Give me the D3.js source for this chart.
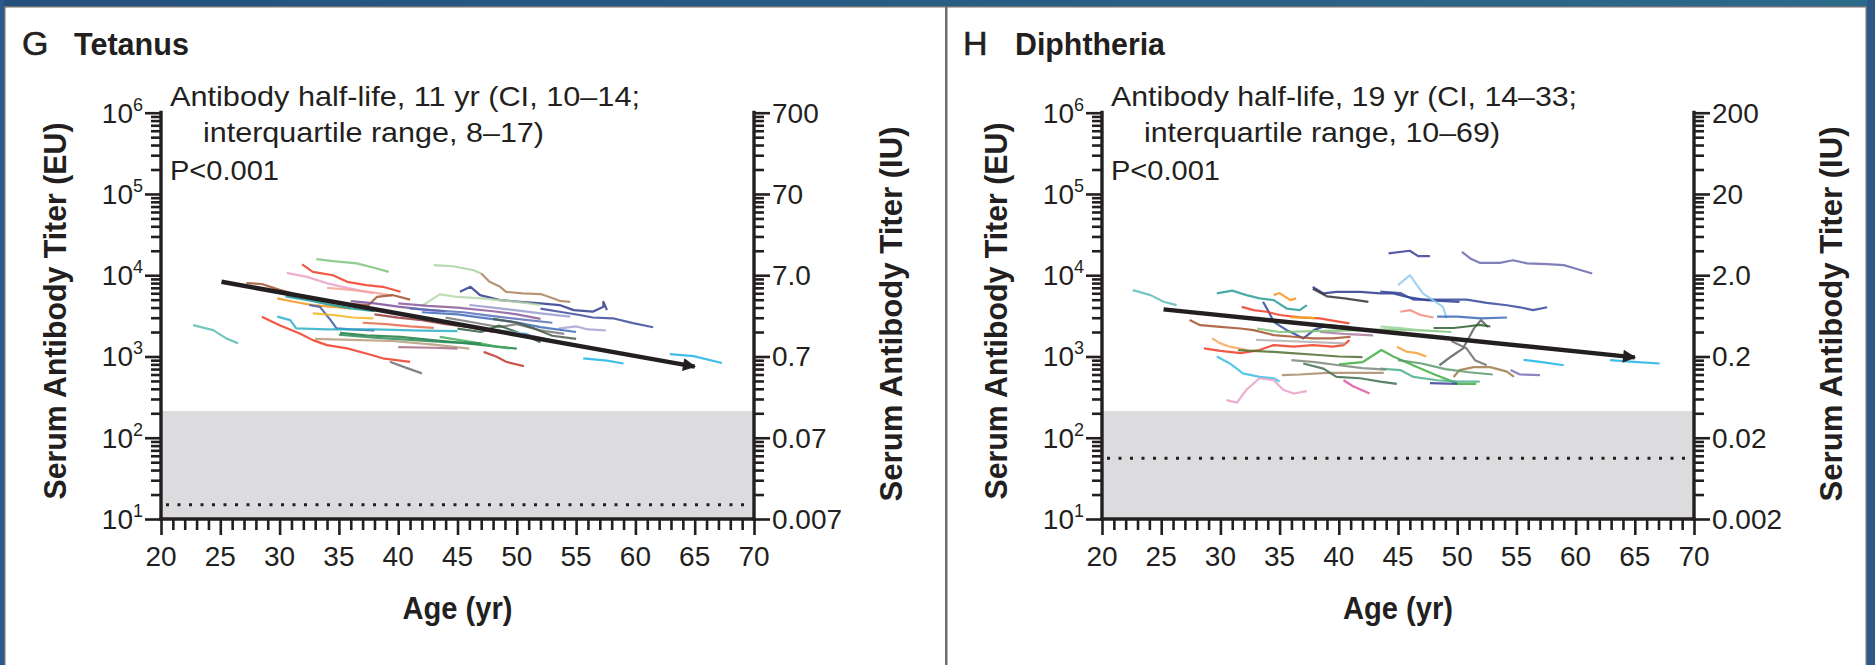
<!DOCTYPE html>
<html>
<head>
<meta charset="utf-8">
<script src="https://cdn.jsdelivr.net/npm/d3@7"></script>
<style>
  body { margin: 0; background: #fff; }
  svg text { font-family: "Liberation Sans", Arial, sans-serif; fill: #231f20; }
</style>
</head>
<body>
<svg id="chart" width="1875" height="665"></svg>
<script>
/* ---- data (age in yr, titer in EU) ---- */
const xTicks = [20, 25, 30, 35, 40, 45, 50, 55, 60, 65, 70];
const decades = [10, 100, 1e3, 1e4, 1e5, 1e6];

const tetanusIU = ["0.007", "0.07", "0.7", "7.0", "70", "700"];
const diphtheriaIU = ["0.002", "0.02", "0.2", "2.0", "20", "200"];

const tetanusNotes = ["Antibody half-life, 11 yr (CI, 10\u201314;", "interquartile range, 8\u201317)", "P<0.001"];
const diphtheriaNotes = ["Antibody half-life, 19 yr (CI, 14\u201333;", "interquartile range, 10\u201369)", "P<0.001"];

const tetanusFit = [[25.1, 8300], [65, 750]];
const diphtheriaFit = [[25.2, 3800], [65, 975]];

const protectiveEU = 213;
const tetanusDotted = 15;
const diphtheriaDotted = 56;

const tetanusSeries = [
  [[22.7, 2430], [24.4, 2110], [25.5, 1670], [26.5, 1450]],
  [[33.1, 15800], [34.5, 14900], [36.5, 14000], [38.2, 12100], [39.2, 11000]],
  [[31.9, 13600], [32.8, 11000], [34.5, 10000], [35.7, 8300], [37.3, 7550], [38.7, 7200], [40.2, 6250]],
  [[30.6, 10700], [32.3, 9550], [34.0, 7950], [35.9, 6900], [37.9, 6000]],
  [[34, 7000], [36, 6600], [38, 6100], [39.5, 5600]],
  [[27.2, 8000], [28.5, 7800], [30, 6600], [32, 5500], [34, 4900], [36, 4400], [37.5, 4300], [38.2, 5400], [39.5, 5700], [41, 5000]],
  [[29.8, 5190], [31.2, 4710], [32.8, 4290], [34.5, 4080], [36, 3900]],
  [[30.5, 5500], [32.5, 4900], [34, 4400], [36, 3900], [38, 3600]],
  [[32.5, 4300], [33.4, 4080], [34.3, 2800], [34.8, 2220], [36, 2150], [38, 2100]],
  [[32.8, 3390], [34.5, 3240], [36.2, 3020], [37.9, 2950]],
  [[28.5, 3090], [30, 2430], [31.7, 1920], [32.8, 1590], [34, 1380], [35.7, 1260], [37.3, 1090], [38.7, 950], [41, 860]],
  [[29.8, 3090], [30.9, 2800], [31.4, 2220], [34, 2150], [38, 2150], [42, 2080], [45, 2050]],
  [[39.3, 860], [40.4, 750], [42.0, 620]],
  [[35.1, 1950], [37.3, 1820], [40.2, 1740], [42.9, 1590], [45.8, 1450], [48.3, 1320], [50, 1250]],
  [[33, 1650], [36, 1600], [39.5, 1550], [43, 1400], [46, 1250]],
  [[40, 1300], [43, 1280], [45, 1250]],
  [[43.0, 13300], [44.6, 12900], [46.3, 11600], [47.0, 10500]],
  [[47.0, 10500], [47.7, 8300], [48.6, 7200], [49.1, 6250], [50.5, 5970], [52.0, 5860], [53.1, 5180], [53.6, 4840], [54.5, 4710]],
  [[45.2, 6250], [46.1, 7200], [46.9, 5690], [48.6, 4940], [50.3, 4710], [52, 4500], [53.6, 4290], [54.8, 3720], [56.4, 3560], [57.3, 4100], [57.3, 4710], [57.6, 3720]],
  [[52.0, 3890], [53.6, 3550], [55.3, 3240], [56.4, 3020], [58.1, 2950], [59.8, 2570], [61.5, 2290]],
  [[53.5, 2200], [55, 2350], [56, 2150], [57.5, 2100]],
  [[55.6, 950], [57.6, 890], [59.0, 820]],
  [[62.9, 1070], [64.9, 1010], [67.3, 830]],
  [[47.2, 1140], [48.3, 990], [49.1, 860], [50.6, 760]],
  [[43.5, 1740], [45.2, 1590], [46.9, 1450], [48.3, 1320], [49.4, 1260]],
  [[42, 4200], [43.5, 5800], [45, 5400], [47, 5200], [50, 4700], [52, 4300]],
  [[40, 4500], [42.5, 4200], [45, 4000], [48, 3600], [50, 3300], [52, 2900]],
  [[42, 3500], [45, 3300], [47, 3000], [49.5, 2700], [52, 2300], [55, 2000]],
  [[44, 3000], [46.5, 2600], [48.5, 2300], [50, 2500], [52, 2100], [54, 1900]],
  [[45, 2200], [47, 2000], [48.5, 2400], [50, 2000], [52, 1500]],
  [[44, 2600], [46, 2400], [48, 2100], [51, 1900]],
  [[35, 1850], [38, 1700], [41, 1600], [44, 1500], [47, 1450]],
  [[38, 3300], [40, 3000], [42, 2800], [44, 2500], [46, 2300], [48, 2000]],
  [[36, 4800], [38, 4500], [40, 4100], [42, 3800], [44, 3600]],
  [[41, 3900], [43, 3700], [45.5, 3500], [47.5, 3200], [50, 2900], [53, 2600]],
  [[46, 4300], [48, 4000], [50, 3700], [52, 3400], [54.5, 3100]],
  [[48, 2900], [50, 2600], [51.5, 2200], [53, 1800], [55, 1650]],
  [[37, 2600], [39, 2500], [41, 2350], [43, 2250]],
  [[50.5, 1900], [52, 1700], [53.5, 1500], [55, 1400]]
];
const tetanusColors = ["#5dbcb8", "#7cc47a", "#ee3b24", "#e8a0c8", "#f5a59a", "#a0522d", "#f7941d", "#1a9a9a",
  "#3c5aa8", "#f2b418", "#ee3b24", "#2bb0c8", "#6d6e71", "#1e7b45", "#b59a78", "#a86a86",
  "#a6d49f", "#a8825a", "#2e3a8c", "#3c4a9c", "#a8a4d4", "#1fb3e5", "#1fb3e5", "#c0392b",
  "#3fae5a", "#b5d8a8", "#8a5a9a", "#3c6ab8", "#7a7a7a", "#2f5f3f", "#8fcbee", "#2e8b57", "#9e3a3a",
  "#7b4f9c", "#5a6fb8", "#9a9ad0", "#4a5a4a", "#e36a4a", "#6a7ab0"];

const diphtheriaSeries = [
  [[22.6, 6560], [24.1, 5690], [25.2, 4710], [26.3, 4290]],
  [[29.7, 5970], [31.0, 6460], [32.2, 5690], [33.3, 5190], [34.5, 4940], [35.6, 3890], [36.7, 3720], [37.3, 4290]],
  [[34.5, 5690], [35.0, 6030], [35.9, 4940], [36.4, 5190]],
  [[33.6, 4710], [34.0, 3720], [34.5, 2670], [35.6, 2110], [36.2, 1920], [37.0, 1670], [37.9, 2110], [39.0, 2430], [41, 2300]],
  [[31.8, 4080], [32.8, 3720], [33.9, 3550], [35.0, 3240], [36.7, 3030], [38.4, 2940], [40.1, 2670], [40.9, 2550]],
  [[35.9, 3020], [37.3, 3020], [38, 2950]],
  [[37.8, 7200], [38.7, 5970], [39.8, 6250], [41.8, 6250], [43.5, 5970], [44.6, 5970], [45.7, 5430], [47.4, 4940], [50.2, 4710]],
  [[43.5, 6300], [45.2, 6030], [46.3, 5010], [49.1, 5010], [50.8, 5010], [52.5, 4570], [54.2, 4270], [55.3, 4030], [56.4, 3720], [57.6, 4030]],
  [[45.0, 7550], [46.0, 10000], [47.1, 5970], [48.8, 4080], [49.1, 2940]],
  [[45.2, 3550], [46.0, 3720], [46.9, 3240], [48.0, 3020]],
  [[44.2, 18600], [46.0, 20000], [46.7, 17200], [47.7, 17200]],
  [[50.4, 19400], [51.1, 16100], [51.9, 14200], [53.6, 14200], [54.7, 15300], [55.9, 14000], [57.6, 13700], [59.0, 13300], [60.4, 11600], [61.4, 10500]],
  [[48.3, 3090], [50, 3090], [52, 2950], [54.2, 3020]],
  [[27.4, 2820], [28.3, 2430], [30, 2320], [31.7, 2210], [32.8, 2110], [34.5, 1830], [36.2, 1750], [37.8, 1670], [39.5, 1670], [41, 1750]],
  [[29.3, 1670], [30, 1450], [30.8, 1320], [32.2, 1200]],
  [[28.6, 1260], [30, 1170], [31.7, 1100], [33.3, 1200], [34.5, 1380], [36.2, 1320], [37.8, 1380], [39.5, 1320], [40.4, 1380], [40.9, 1590]],
  [[29.7, 1000], [30.8, 820], [31.9, 620], [33.3, 560], [34.5, 540], [35, 490]],
  [[30.5, 290], [31.4, 270], [32.2, 390], [33.3, 540], [34.5, 510], [35.3, 390], [36.2, 350], [37.3, 375]],
  [[35.2, 590], [36.7, 600], [39, 630], [41.8, 630], [43.8, 630]],
  [[37.0, 820], [38.7, 710], [39.8, 560], [41.8, 540], [43.5, 490], [44.9, 460]],
  [[40.4, 510], [41.2, 430], [42.6, 350]],
  [[38.4, 2000], [40.4, 1900], [42.9, 1820]],
  [[48.5, 780], [49.5, 1000], [50.5, 1260], [51.4, 2200], [52.0, 2800], [52.6, 2300]],
  [[49.5, 1550], [50.8, 1250], [51.5, 900], [52.5, 780]],
  [[33.1, 2210], [35, 2000], [38, 2050], [41, 2100], [44.5, 2150], [47, 2100], [49.5, 2000]],
  [[31.5, 1200], [34, 1150], [36, 1100], [38, 1050], [40, 1000], [42, 980]],
  [[40, 800], [42, 850], [43.6, 1200], [44.6, 1000], [46.6, 740], [48.1, 600], [50.1, 460], [51.6, 460]],
  [[43.5, 710], [45.2, 680], [46.3, 560], [48.3, 510], [50.2, 490], [51.9, 490]],
  [[49.7, 560], [50.2, 680], [51.4, 740], [52.8, 740], [54.2, 650], [54.8, 560]],
  [[54.5, 680], [55.3, 600], [57, 590]],
  [[47.7, 470], [50, 460]],
  [[55.6, 910], [57, 860], [59, 780]],
  [[62.9, 900], [64.9, 860], [67.1, 820]],
  [[44.9, 1320], [45.7, 1150], [46.6, 1100], [47.4, 1000]],
  [[48, 2240], [49.7, 2240], [50.8, 2340], [51.9, 2450], [52.8, 2340]],
  [[43.5, 2340], [45.2, 2240], [46.9, 2090]],
  [[33, 1600], [35.5, 1550], [38, 1500], [40.5, 1450]],
  [[37.8, 6800], [39, 5500], [40.5, 5200], [42.5, 4700]],
  [[36, 900], [38, 850], [40, 780], [42, 720], [44, 690]],
  [[45, 900], [47, 820], [49, 700], [51, 640], [53, 600]]
];
const diphtheriaColors = ["#5dbcb8", "#2a9d9a", "#f7941d", "#2e4a9c", "#ee3b24", "#f2b418", "#2e3a8c", "#34479c",
  "#8fcbee", "#f58a7a", "#3a3f98", "#6a68b0", "#3c6ab8", "#a0522d", "#f7a65a", "#ee3b24",
  "#3cbde0", "#e8a0c8", "#a8896a", "#3f6f4f", "#e0529a", "#a87a9a", "#5a5f5f", "#6d6e71",
  "#7cc47a", "#4f6f2f", "#3fae3f", "#4fb08a", "#a07a4a", "#7a70b8", "#3a3f98", "#1fb3e5",
  "#1fb3e5", "#f7a03a", "#2f5f2f", "#9fd49f", "#b0b0b0", "#333333", "#7a8a7a", "#5a9a6a"];

/* ---- drawing ---- */
const svg = d3.select("#chart");
const ink = "#231f20";

// page frame
let defs = svg.append("defs");
let bar = defs.append("linearGradient").attr("id", "topbar");
bar.append("stop").attr("offset", "0%").attr("stop-color", "#24507e");
bar.append("stop").attr("offset", "100%").attr("stop-color", "#2c6a8a");
svg.append("rect").attr("x", 0).attr("y", 0).attr("width", 1875).attr("height", 6).attr("fill", "url(#topbar)");
svg.append("rect").attr("x", 0).attr("y", 6).attr("width", 1875).attr("height", 1.5).attr("fill", "#707174");
svg.append("rect").attr("x", 0).attr("y", 0).attr("width", 4).attr("height", 665).attr("fill", "#2b5a8a");
svg.append("rect").attr("x", 4).attr("y", 6).attr("width", 1.5).attr("height", 659).attr("fill", "#707174");
svg.append("rect").attr("x", 1867).attr("y", 0).attr("width", 8).attr("height", 665).attr("fill", "#2b5a8a");
svg.append("rect").attr("x", 1865.5).attr("y", 6).attr("width", 1.5).attr("height", 659).attr("fill", "#707174");
svg.append("rect").attr("x", 945).attr("y", 6).attr("width", 2.5).attr("height", 659).attr("fill", "#6d6e71");

defs.append("marker")
  .attr("id", "arrowhead")
  .attr("viewBox", "0 0 10 10")
  .attr("refX", 9).attr("refY", 5)
  .attr("markerUnits", "userSpaceOnUse")
  .attr("markerWidth", 18).attr("markerHeight", 13)
  .attr("orient", "auto")
  .append("path").attr("d", "M0,0 L10,5 L0,10 Z").attr("fill", ink);

function tickGroup(parent, tx, ty, axis) {
  let a = parent.append("g").attr("transform", `translate(${tx},${ty})`).call(axis);
  a.select(".domain").remove();
  a.selectAll(".tick line").attr("stroke", ink).attr("stroke-width", 2.6);
  return a;
}

function drawPanel(cfg) {
  let g = svg.append("g");

  let x = d3.scaleLinear().domain([20, 70]).range([cfg.left, cfg.right]);
  let y = d3.scaleLog().domain([10, 1e6]).range([519, 112.7]);

  /* grey band below the protective level, dotted line */
  g.append("rect")
    .attr("x", x(20)).attr("y", y(protectiveEU))
    .attr("width", x(70) - x(20)).attr("height", y(10) - y(protectiveEU))
    .attr("fill", "#dcdcde");
  g.append("line")
    .attr("x1", x(20) + 5).attr("x2", x(70) - 3)
    .attr("y1", y(cfg.dotted)).attr("y2", y(cfg.dotted))
    .attr("stroke", ink).attr("stroke-width", 3)
    .attr("stroke-dasharray", "3,8.5");

  /* individual trajectories */
  let line = d3.line().x(d => x(d[0])).y(d => y(d[1]));
  g.append("g").selectAll("path")
    .data(cfg.series)
    .join("path")
    .attr("d", line)
    .attr("fill", "none")
    .attr("stroke", (d, i) => cfg.colors[i % cfg.colors.length])
    .attr("stroke-width", 2.2)
    .attr("stroke-opacity", 0.85)
    .attr("stroke-linejoin", "round");

  /* fitted decay, with arrow */
  g.append("path")
    .attr("d", line(cfg.fit))
    .attr("stroke", ink).attr("stroke-width", 4.5)
    .attr("fill", "none")
    .attr("marker-end", "url(#arrowhead)");

  /* ticks: minor (2..9 per decade, each year) and major */
  let minors = [];
  for (let e = 1; e < 6; e++) for (let m = 2; m < 10; m++) minors.push(m * Math.pow(10, e));
  let years = d3.range(20, 71).filter(v => v % 5 !== 0);

  tickGroup(g, cfg.left, 0, d3.axisLeft(y).tickValues(minors).tickSize(10).tickFormat(""));
  tickGroup(g, cfg.left, 0, d3.axisLeft(y).tickValues(decades).tickSize(16).tickFormat(""));
  tickGroup(g, cfg.right, 0, d3.axisRight(y).tickValues(minors).tickSize(10).tickFormat(""));
  tickGroup(g, cfg.right, 0, d3.axisRight(y).tickValues(decades).tickSize(16).tickFormat(""));
  tickGroup(g, 0, 519, d3.axisBottom(x).tickValues(years).tickSize(11).tickFormat(""));
  tickGroup(g, 0, 519, d3.axisBottom(x).tickValues(xTicks).tickSize(16).tickFormat(""));

  /* axis lines */
  g.append("line").attr("x1", cfg.left).attr("x2", cfg.left).attr("y1", y(1e6) - 2).attr("y2", 520.5)
    .attr("stroke", ink).attr("stroke-width", 3.4);
  g.append("line").attr("x1", cfg.right).attr("x2", cfg.right).attr("y1", y(1e6) - 2).attr("y2", 520.5)
    .attr("stroke", ink).attr("stroke-width", 3.4);
  g.append("line").attr("x1", cfg.left - 1.7).attr("x2", cfg.right + 1.7).attr("y1", 519).attr("y2", 519)
    .attr("stroke", ink).attr("stroke-width", 3.4);

  /* tick labels */
  g.append("g").selectAll("text")
    .data(decades)
    .join("text")
    .attr("x", cfg.left - 18)
    .attr("y", d => y(d) + 10)
    .attr("text-anchor", "end")
    .style("font-size", "28px")
    .each(function (d) {
      let t = d3.select(this);
      t.append("tspan").text("10");
      t.append("tspan").attr("dy", -12).style("font-size", "18px").text(Math.round(Math.log10(d)));
    });

  g.append("g").selectAll("text")
    .data(decades)
    .join("text")
    .attr("x", cfg.right + 18)
    .attr("y", d => y(d) + 10)
    .style("font-size", "28px")
    .text((d, i) => cfg.iu[i]);

  g.append("g").selectAll("text")
    .data(xTicks)
    .join("text")
    .attr("x", d => x(d))
    .attr("y", 566)
    .attr("text-anchor", "middle")
    .style("font-size", "28px")
    .text(d => d);

  /* axis titles */
  g.append("text")
    .attr("x", (cfg.left + cfg.right) / 2).attr("y", 619)
    .attr("text-anchor", "middle")
    .style("font-size", "31px").style("font-weight", "bold")
    .attr("textLength", 110).attr("lengthAdjust", "spacingAndGlyphs")
    .text("Age (yr)");

  g.append("text")
    .attr("transform", `translate(${cfg.left - 95},311) rotate(-90)`)
    .attr("text-anchor", "middle")
    .style("font-size", "32px").style("font-weight", "bold")
    .attr("textLength", 377).attr("lengthAdjust", "spacingAndGlyphs")
    .text("Serum Antibody Titer (EU)");

  g.append("text")
    .attr("transform", `translate(${cfg.right + 148},314) rotate(-90)`)
    .attr("text-anchor", "middle")
    .style("font-size", "32px").style("font-weight", "bold")
    .attr("textLength", 375).attr("lengthAdjust", "spacingAndGlyphs")
    .text("Serum Antibody Titer (IU)");

  /* panel title */
  g.append("text")
    .attr("x", cfg.left - 139).attr("y", 55)
    .style("font-size", "34px")
    .style("stroke", ink).style("stroke-width", 0.6)
    .text(cfg.letter);
  g.append("text")
    .attr("x", cfg.left - 87).attr("y", 55)
    .style("font-size", "31px").style("font-weight", "bold")
    .attr("textLength", cfg.titleWidth).attr("lengthAdjust", "spacingAndGlyphs")
    .text(cfg.title);

  /* annotation */
  let noteX = [9, 42, 9];
  let noteY = [106, 142, 180];
  g.append("g").selectAll("text")
    .data(cfg.notes)
    .join("text")
    .attr("x", (d, i) => cfg.left + noteX[i])
    .attr("y", (d, i) => noteY[i])
    .style("font-size", "28px")
    .attr("textLength", (d, i) => cfg.noteWidths[i])
    .attr("lengthAdjust", "spacingAndGlyphs")
    .text(d => d);
}

drawPanel({
  left: 161, right: 754, letter: "G", title: "Tetanus", titleWidth: 115,
  series: tetanusSeries, colors: tetanusColors, fit: tetanusFit,
  dotted: tetanusDotted, iu: tetanusIU, notes: tetanusNotes, noteWidths: [470, 341, 109]
});
drawPanel({
  left: 1102, right: 1694, letter: "H", title: "Diphtheria", titleWidth: 150,
  series: diphtheriaSeries, colors: diphtheriaColors, fit: diphtheriaFit,
  dotted: diphtheriaDotted, iu: diphtheriaIU, notes: diphtheriaNotes, noteWidths: [466, 356, 109]
});
</script>
</body>
</html>
